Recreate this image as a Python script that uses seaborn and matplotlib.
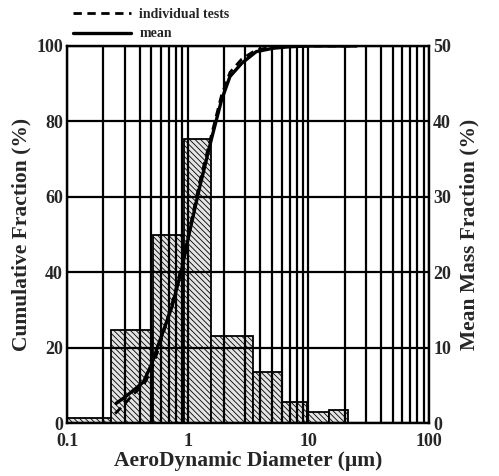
import matplotlib
matplotlib.use("Agg")
import matplotlib.pyplot as plt
import seaborn as sns
import numpy as np
import pandas as pd
from matplotlib.ticker import FixedLocator, LogLocator, NullFormatter

# impactor stage edges (um) and mean mass fraction per stage (%)
stage_edges = [0.1, 0.23, 0.52, 0.93, 1.55, 3.5, 6.0, 9.8, 14.8, 21.3]
mass_fraction = [0.65, 12.3, 25.0, 37.7, 11.5, 6.7, 2.8, 1.5, 1.7]

# cumulative curves (%)
mean_d = [0.255, 0.3, 0.35, 0.43, 0.5, 0.59, 0.74, 0.89, 1.03, 1.26, 1.59,
          1.91, 2.24, 2.8, 3.7, 5.1, 7.0, 10.0, 16.0, 25.0]
mean_cum = [5.2, 6.8, 8.5, 10.9, 15.5, 22.0, 30.8, 40.6, 50.3, 62.7, 75.9,
            85.7, 91.9, 95.4, 98.5, 99.4, 99.8, 100.0, 100.0, 100.0]
indiv_d = [0.25, 0.3, 0.35, 0.43, 0.5, 0.59, 0.74, 0.89, 1.03, 1.26, 1.59,
           1.91, 2.24, 2.8, 3.7, 5.1, 7.0, 10.0, 16.0, 25.0]
indiv_cum = [2.5, 5.0, 7.5, 10.0, 14.0, 21.0, 31.5, 41.5, 51.0, 64.0, 77.0,
             87.0, 93.0, 96.5, 99.0, 99.7, 99.9, 100.0, 100.0, 100.0]

x_ticks = [0.1, 1, 10, 100]
x_ticklabels = ["0.1", "1", "10", "100"]
left_ticks = [0, 20, 40, 60, 80, 100]
right_ticks = [0, 10, 20, 30, 40, 50]

sns.set_style("white")
plt.rcParams["font.family"] = ["Liberation Serif", "DejaVu Serif"]
plt.rcParams["font.weight"] = "bold"
plt.rcParams["hatch.color"] = "#a6a6a6"
plt.rcParams["hatch.linewidth"] = 0.6

fig = plt.figure(figsize=(4.99, 4.76), dpi=100)
ax = fig.add_axes([0.1343, 0.1113, 0.7255, 0.7921])
ax2 = ax.twinx()
ax.set_zorder(ax2.get_zorder() + 1)
ax.patch.set_visible(False)

# histogram of mean mass fraction on right axis
lefts = np.array(stage_edges[:-1])
widths = np.diff(stage_edges)
ax2.bar(lefts, mass_fraction, width=widths, align="edge",
        facecolor="#e4e4e4", edgecolor="black", linewidth=1.3,
        hatch="\\" * 6, zorder=1)

df_mean = pd.DataFrame({"d": mean_d, "cum": mean_cum})
df_ind = pd.DataFrame({"d": indiv_d, "cum": indiv_cum})
sns.lineplot(data=df_ind, x="d", y="cum", ax=ax, color="black", lw=2.0,
             linestyle=(0, (3, 2)), label="individual tests", zorder=5)
sns.lineplot(data=df_mean, x="d", y="cum", ax=ax, color="black", lw=2.4,
             label="mean", zorder=5)

for a in (ax, ax2):
    a.set_xscale("log")
    a.set_xlim(0.1, 100)
ax.set_ylim(0, 100)
ax2.set_ylim(0, 50)

# grid on the top axis, so it lies over the bars
ax.xaxis.set_major_locator(FixedLocator(x_ticks))
ax.set_xticklabels(x_ticklabels)
ax.xaxis.set_minor_locator(LogLocator(base=10, subs=np.arange(2, 10)))
ax.xaxis.set_minor_formatter(NullFormatter())
ax.set_yticks(left_ticks)
ax2.set_yticks(right_ticks)
ax.grid(True, which="both", axis="x", color="black", lw=1.6, zorder=2)
ax.grid(True, which="major", axis="y", color="black", lw=1.6, zorder=2)
ax2.grid(False)

ax.tick_params(which="both", length=0, labelsize=13)
ax.tick_params(axis="x", pad=7)
ax.tick_params(axis="y", pad=3)
ax2.tick_params(which="both", length=0, labelsize=13, pad=3)
for t in ax.get_xticklabels() + ax.get_yticklabels() + ax2.get_yticklabels():
    t.set_fontweight("bold")

for a in (ax, ax2):
    for s in a.spines.values():
        s.set_color("black")
        s.set_linewidth(1.6)

ax.set_xlabel("AeroDynamic Diameter (\u00b5m)", fontsize=15.5, fontweight="bold", labelpad=1)
ax.set_ylabel("Cumulative Fraction (%)", fontsize=15.5, fontweight="bold", labelpad=3)
ax2.set_ylabel("Mean Mass Fraction (%)", fontsize=15.5, fontweight="bold", labelpad=6)

ax.legend(loc="lower left", bbox_to_anchor=(0.0, 1.0), frameon=False,
          fontsize=10, handlelength=4.2, handletextpad=0.6, labelspacing=0.45,
          borderaxespad=0.0)

fig.savefig("out.png", dpi=100)
